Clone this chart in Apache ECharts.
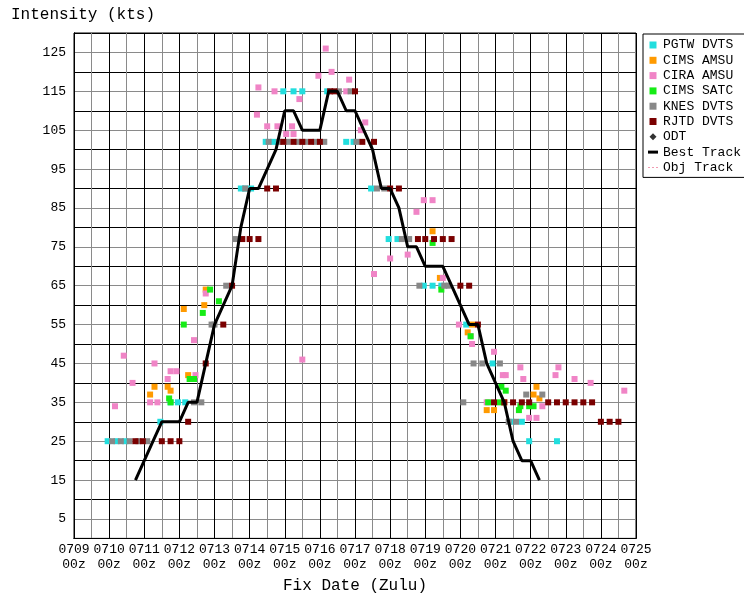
<!DOCTYPE html>
<html><head><meta charset="utf-8">
<script src="https://cdn.jsdelivr.net/npm/echarts@6/dist/echarts.min.js"></script>
<style>html,body{margin:0;padding:0;background:#fff}#c{width:744px;height:593px}</style>
</head><body><div id="c"></div>
<script>
// Fix times as "MMDDHH" (July), intensities in kts
const xTickLabels = ['0709','0710','0711','0712','0713','0714','0715','0716','0717','0718','0719','0720','0721','0722','0723','0724','0725'];
const yTickLabels = [5,15,25,35,45,55,65,75,85,95,105,115,125];

const pgtwTime = ['070923','071005','071011','071111','071118','071123','071204','071318','071321','071401','071411','071416','071423','071506','071512','071605','071618','071623','071711','071723','071805','071823','071905','071911','072004','072022','072111','072118','072123','072218'];
const pgtwKts  = [25,25,25,30,35,35,35,90,90,90,102,102,115,115,115,115,102,102,90,77,77,65,65,65,55,45,30,30,25,25];

const cimsAmsuTime = ['071104','071107','071116','071118','071203','071206','071217','071218','071905','071910','072005','072008','072018','072023','072106','072202','072204','072206'];
const cimsAmsuKts  = [37,39,39,38,59,42,60,64,79,67,53,55,33,33,35,37,39,36];

const ciraTime = ['071004','071010','071016','071104','071107','071109','071116','071118','071122','071210','071211','071218','071405','071406','071412','071417','071419','071501','071505','071506','071510','071512','071523','071604','071608','071618','071620','071704','071707','071713','071800','071812','071818','071823','071905','071912','071923','072007','072008','072018','072023','072105','072107','072117','072119','072123','072204','072208','072217','072219','072306','072317','072416'];
const ciraKts  = [34,47,40,35,45,35,41,43,43,51,42,63,109,116,106,115,106,104,106,104,113,46,119,126,120,115,118,105,107,68,72,73,84,87,87,67,55,52,50,35,48,42,42,44,41,31,31,34,42,44,41,40,38];

const satcTime = ['071117','071118','071203','071207','071210','071216','071221','071303','071905','071911','072007','072019','072103','072104','072107','072116','072117','072123','072202'];
const satcKts  = [36,35,55,41,41,58,64,61,76,64,52,35,35,39,38,33,34,34,34];

const knesTime = ['071002','071008','071014','071020','071102','071210','071215','071222','071300','071308','071314','071321','071413','071420','071502','071509','071514','071521','071603','071613','071621','071701','071715','071720','071808','071813','071820','071913','071916','072002','072009','072015','072103','072109','072114','072121','072208'];
const knesKts  = [25,25,25,25,25,35,35,55,55,65,77,90,102,102,102,102,102,102,102,115,115,102,90,90,77,77,65,65,65,35,45,45,45,30,30,37,37];

const rjtdTime = ['071018','071023','071112','071118','071200','071206','071218','071306','071312','071319','071400','071406','071412','071418','071423','071506','071512','071518','071600','071607','071610','071700','071705','071713','071800','071806','071819','071900','071906','071912','071918','072000','072006','072012','072023','072106','072112','072118','072123','072212','072218','072300','072306','072312','072318','072400','072406','072412'];
const rjtdKts  = [25,25,25,25,25,30,45,55,65,77,77,77,90,90,102,102,102,102,102,115,115,115,102,102,90,90,77,77,77,77,77,65,65,55,35,35,35,35,35,35,35,35,35,35,35,30,30,30];

const bestTime = ['071018','071100','071106','071112','071118','071200','071206','071212','071218','071300','071306','071312','071318','071400','071406','071412','071418','071500','071506','071512','071518','071600','071606','071612','071618','071700','071706','071712','071718','071800','071806','071812','071818','071900','071906','071912','071918','072000','072006','072012','072018','072100','072106','072112','072118','072200','072206'];
const bestKts  = [15,20,25,30,30,30,35,35,45,55,60,65,80,90,90,95,100,110,110,105,105,105,115,115,110,110,105,100,90,90,85,75,75,70,70,70,65,60,55,55,45,40,35,25,20,20,15];

function toDay(s){ return (+s.slice(2,4)) - 9 + (+s.slice(4,6))/24; }
function pts(t,k){ return t.map((s,i)=>[toDay(s),k[i]]); }

const FONT = 'Liberation Mono';
const sq = 'path://M0,0h7v7h-7z';

function scat(name,color,t,k){
  return {name:name,type:'scatter',symbol:'rect',symbolSize:6,itemStyle:{color:color,opacity:1},data:pts(t,k),xAxisIndex:0,yAxisIndex:0,animation:false};
}

const chart = echarts.init(document.getElementById('c'),null,{renderer:'canvas'});
chart.setOption({
  backgroundColor:'#fff',
  animation:false,
  title:{text:'Intensity (kts)',left:11,top:7,padding:0,textStyle:{fontFamily:FONT,fontSize:16,fontWeight:'normal',color:'#000'}},
  grid:{left:74,right:108,top:33,bottom:54.6,containLabel:false,outerBoundsMode:'none',show:true,backgroundColor:'#fff',borderColor:'#000',borderWidth:1},
  legend:{
    orient:'vertical',left:643,top:34,padding:[4,5,3,5],itemGap:1.3,itemWidth:10,itemHeight:7,
    borderColor:'#000',borderWidth:1,backgroundColor:'#fff',selectedMode:false,
    textStyle:{fontFamily:FONT,fontSize:13,color:'#000',lineHeight:14},
    data:[
      {name:'PGTW DVTS',icon:sq},{name:'CIMS AMSU',icon:sq},{name:'CIRA AMSU',icon:sq},
      {name:'CIMS SATC',icon:sq},{name:'KNES DVTS',icon:sq},{name:'RJTD DVTS',icon:sq},
      {name:'ODT',icon:'path://M4,0L8,4L4,8L0,4z'},
      {name:'Best Track',icon:'path://M0,0h10v3h-10z'},
      {name:'Obj Track',icon:'path://M0,0h2v1h-2zM4,0h2v1h-2zM8,0h2v1h-2z'}
    ]
  },
  xAxis:[
    {type:'value',min:0,max:16,interval:0.5,position:'bottom',
     axisLine:{show:true,lineStyle:{color:'#000'}},axisTick:{show:false},axisLabel:{show:false},
     splitLine:{show:true,lineStyle:{color:'#8a8a8a',width:1}}},
    {type:'value',min:0,max:16,interval:1,position:'bottom',
     axisLine:{show:true,lineStyle:{color:'#000'}},axisTick:{show:false},
     axisLabel:{show:true,margin:4,fontFamily:FONT,fontSize:13,color:'#000',lineHeight:15,
       formatter:function(v){const i=Math.round(v); if(Math.abs(v-i)>1e-6||!xTickLabels[i])return ''; return xTickLabels[i]+'\n00z';}},
     splitLine:{show:true,lineStyle:{color:'#000',width:1}},
     name:'Fix Date (Zulu)',nameLocation:'middle',nameGap:30,
     nameTextStyle:{fontFamily:FONT,fontSize:16,color:'#000'}}
  ],
  yAxis:[
    {type:'value',min:0,max:130,interval:5,position:'left',
     axisLine:{show:true,lineStyle:{color:'#000'}},axisTick:{show:false},
     axisLabel:{show:true,margin:8,fontFamily:FONT,fontSize:13,color:'#000',
       formatter:function(v){return yTickLabels.indexOf(v)>=0?String(v):'';}},
     splitLine:{show:true,lineStyle:{color:'#8a8a8a',width:1}}},
    {type:'value',min:0,max:130,interval:10,position:'left',
     axisLine:{show:true,lineStyle:{color:'#000'}},axisTick:{show:false},axisLabel:{show:false},
     splitLine:{show:true,lineStyle:{color:'#000',width:1}}}
  ],
  series:[
    scat('PGTW DVTS','#22dede',pgtwTime,pgtwKts),
    scat('CIMS AMSU','#ff9a00',cimsAmsuTime,cimsAmsuKts),
    scat('CIRA AMSU','#f084c6',ciraTime,ciraKts),
    scat('CIMS SATC','#16ec16',satcTime,satcKts),
    scat('KNES DVTS','#888888',knesTime,knesKts),
    scat('RJTD DVTS','#7a0000',rjtdTime,rjtdKts),
    {name:'ODT',type:'scatter',symbol:'diamond',symbolSize:8,itemStyle:{color:'#000'},data:[]},
    {name:'Best Track',type:'line',data:pts(bestTime,bestKts),symbol:'none',itemStyle:{color:'#000'},
     lineStyle:{color:'#000',width:3},z:5},
    {name:'Obj Track',type:'line',data:[],symbol:'none',itemStyle:{color:'#f09ab0'},
     lineStyle:{color:'#f09ab0',width:1,type:'dashed'}}
  ]
});
</script></body></html>
